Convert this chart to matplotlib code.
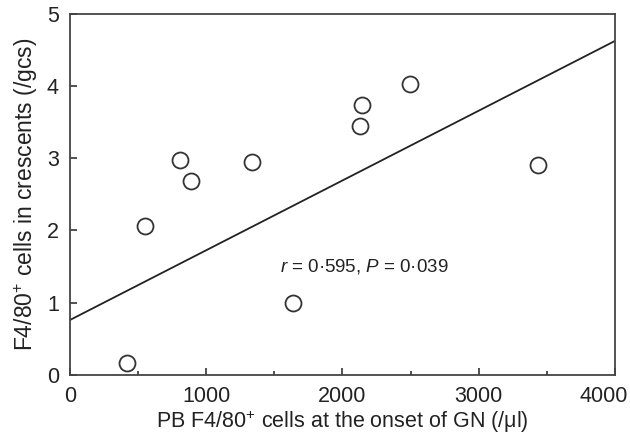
import numpy as np
import matplotlib
matplotlib.use('Agg')
import matplotlib.pyplot as plt
from matplotlib.ticker import MultipleLocator, FuncFormatter

plt.rcParams['font.family'] = ['Liberation Sans', 'DejaVu Sans']
plt.rcParams['mathtext.fontset'] = 'custom'
plt.rcParams['mathtext.rm'] = 'Liberation Sans'
plt.rcParams['mathtext.it'] = 'Liberation Sans:italic'

# PB F4/80+ cells (/ul) vs F4/80+ cells in crescents (/gcs)
pb_cells = [420, 550, 810, 890, 1340, 1640, 2127, 2145, 2493, 3436]
crescent_cells = [0.16, 2.06, 2.98, 2.69, 2.94, 1.00, 3.45, 3.74, 4.02, 2.91]

# fitted line
intercept = 0.76
slope = (4.62 - 0.76) / 4000
line_x = [0, 4000]

fig = plt.figure(figsize=(6.3, 4.36), dpi=100)
ax = fig.add_axes([0.111, 0.140, 0.865, 0.829])

ax.plot(line_x, [intercept + slope * x for x in line_x], color='#222222', lw=1.3)
ax.plot(pb_cells, crescent_cells, 'o', ms=11.5, mfc='white', mec='#333333', mew=1.3,
	linestyle='none', clip_on=False)

ax.text(1544, 1.5, r'$\mathit{r}$ = 0·595, $\mathit{P}$ = 0·039', fontsize=13.5,
	va='center', ha='left', color='#222222')

ax.set_xlim(0, 4000)
ax.set_ylim(0, 5)
ax.xaxis.set_major_locator(MultipleLocator(1000))
ax.xaxis.set_minor_locator(MultipleLocator(500))
ax.yaxis.set_major_locator(MultipleLocator(1))
# last x label drawn by hand, shifted left to stay in the figure
ax.xaxis.set_major_formatter(FuncFormatter(lambda v, p: '' if v >= 4000 else '%d' % v))
ax.annotate('4000', xy=(4000, 0), xycoords=('data', 'axes fraction'), xytext=(-8, -8),
	textcoords='offset points', ha='center', va='top', fontsize=15.5, color='#222222')
ax.tick_params(which='both', direction='in', color='#333333', labelsize=15.5, labelcolor='#222222')
ax.tick_params(which='major', length=5, width=1.2, pad=8)
ax.tick_params(which='minor', length=3, width=1.2)
for s in ax.spines.values():
	s.set_color('#444444')
	s.set_linewidth(1.3)

ax.set_xlabel('PB F4/80$^{+}$ cells at the onset of GN (/μl)', fontsize=15.5, color='#222222', labelpad=1)
ax.set_ylabel(r'F4/80$^{+}$ cells in crescents (/gcs)', fontsize=16.5, color='#222222', labelpad=5)

plt.savefig('out.png', dpi=100)
